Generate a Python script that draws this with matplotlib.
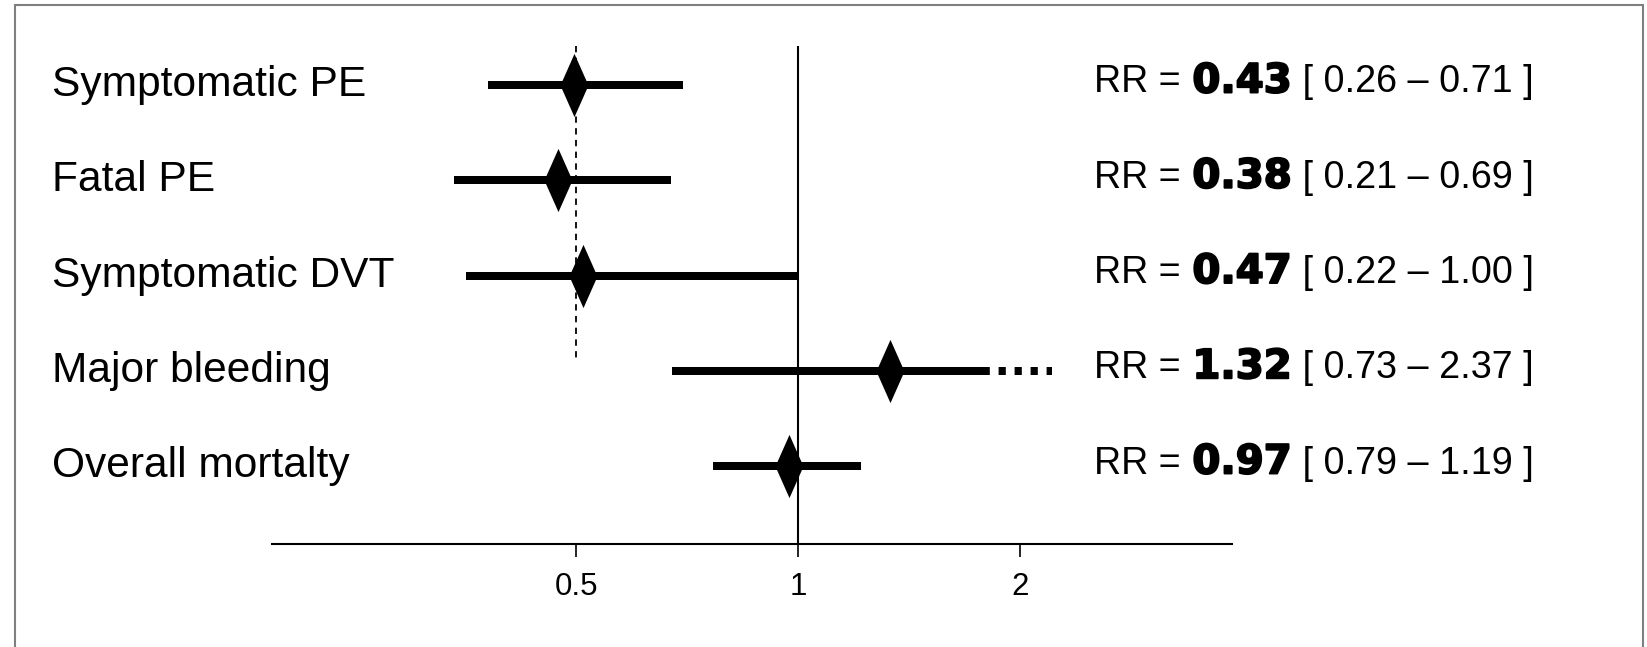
import matplotlib
matplotlib.use("Agg")
import matplotlib.pyplot as plt
from matplotlib.path import Path
from matplotlib.patches import Rectangle
import matplotlib.patheffects as pe
import numpy as np

# ---- data ----
outcomes = ["Symptomatic PE", "Fatal PE", "Symptomatic DVT", "Major bleeding", "Overall mortalty"]
rr_text = ["0.43", "0.38", "0.47", "1.32", "0.97"]
ci_text = ["[ 0.26 \u2013 0.71 ]", "[ 0.21 \u2013 0.69 ]", "[ 0.22 \u2013 1.00 ]",
           "[ 0.73 \u2013 2.37 ]", "[ 0.79 \u2013 1.19 ]"]
# positions as drawn in the picture (log axis)
point_est = [0.497, 0.473, 0.511, 1.333, 0.972]
ci_low = [0.380, 0.342, 0.355, 0.675, 0.767]
ci_high = [0.698, 0.673, 1.0, 1.815, 1.218]
ci_ext = [None, None, None, 2.21, None]  # dotted continuation
ref_dashed = 0.5
ref_null = 1.0
xticks = [0.5, 1, 2]
xticklabels = ["0.5", "1", "2"]

W, H = 1647, 647
fig = plt.figure(figsize=(W / 100, H / 100), dpi=100)

# outer frame
fig.patches.append(Rectangle((15 / W, -0.02), (1643 - 15) / W, 1 - 5 / H + 0.02,
                             transform=fig.transFigure, fill=False,
                             edgecolor="#7f7f7f", linewidth=1.5, zorder=0))

ax_l, ax_r, ax_t, ax_b = 272, 1232, 40, 544
ax = fig.add_axes([ax_l / W, (H - ax_b) / H, (ax_r - ax_l) / W, (ax_b - ax_t) / H])
ax.set_xscale("log")
ax.set_xlim(0.1935, 3.877)
row_px0, row_step = 85, 95.25
ax.set_ylim(4 + (ax_b - row_px0 - 4 * row_step) / row_step, -(row_px0 - ax_t) / row_step)
for s in ["top", "left", "right"]:
    ax.spines[s].set_visible(False)
ax.spines["bottom"].set_linewidth(1.5)
ax.set_yticks([])
ax.set_xticks(xticks)
ax.set_xticklabels(xticklabels, fontsize=22.5, family="Liberation Sans")
ax.xaxis.set_minor_locator(matplotlib.ticker.NullLocator())
ax.tick_params(axis="x", direction="out", length=9, width=1.2, pad=11)
ax.patch.set_alpha(0)

ypos = np.arange(len(outcomes))
top_line = -(row_px0 - 46) / row_step
ax.plot([ref_null, ref_null], [top_line, ax.get_ylim()[0]], color="black", lw=1.5,
        solid_capstyle="butt", zorder=1)
ax.plot([ref_dashed, ref_dashed], [top_line, (360 - row_px0) / row_step], color="black",
        lw=1.3, dashes=(3.5, 3), zorder=1)

diamond = Path([(0, 1), (0.444, 0), (0, -1), (-0.444, 0), (0, 1)],
               [Path.MOVETO, Path.LINETO, Path.LINETO, Path.LINETO, Path.CLOSEPOLY])

for i, y in enumerate(ypos):
    ax.plot([ci_low[i], ci_high[i]], [y, y], color="black", lw=5.76,
            solid_capstyle="butt", zorder=2)
    if ci_ext[i] is not None:
        ax.plot([ci_high[i], ci_ext[i]], [y, y], color="black", lw=5.76,
                linestyle=(0.8, (0.9, 1.1)), dash_capstyle="butt", zorder=2)
    ax.plot([point_est[i]], [y], marker=diamond, markersize=45.5, color="black",
            markeredgewidth=0, zorder=3)

btf = matplotlib.transforms.blended_transform_factory(fig.transFigure, ax.transData)

# left labels
for i, y in enumerate(ypos):
    ax.text(52 / W, y, outcomes[i], transform=btf, fontsize=30.6, family="Liberation Sans",
            va="center", ha="left")

# RR texts
for i, y in enumerate(ypos):
    yb = y + 7.5 / row_step
    t1 = ax.text(1094 / W, yb, "RR = ", transform=btf, fontsize=27,
                 family="Liberation Sans", va="baseline", ha="left")
    t2 = ax.annotate(rr_text[i], xy=(1, yb), xycoords=(t1, "data"), fontsize=29,
                     family="DejaVu Sans", fontweight="bold", va="baseline", ha="left",
                     xytext=(1, 0), textcoords="offset points",
                     path_effects=[pe.withStroke(linewidth=1.4, foreground="black")])
    ax.annotate(" " + ci_text[i], xy=(1, yb), xycoords=(t2, "data"), fontsize=27.2,
                family="Liberation Sans", va="baseline", ha="left",
                xytext=(0, 0), textcoords="offset points")

fig.savefig("out.png", dpi=100)
